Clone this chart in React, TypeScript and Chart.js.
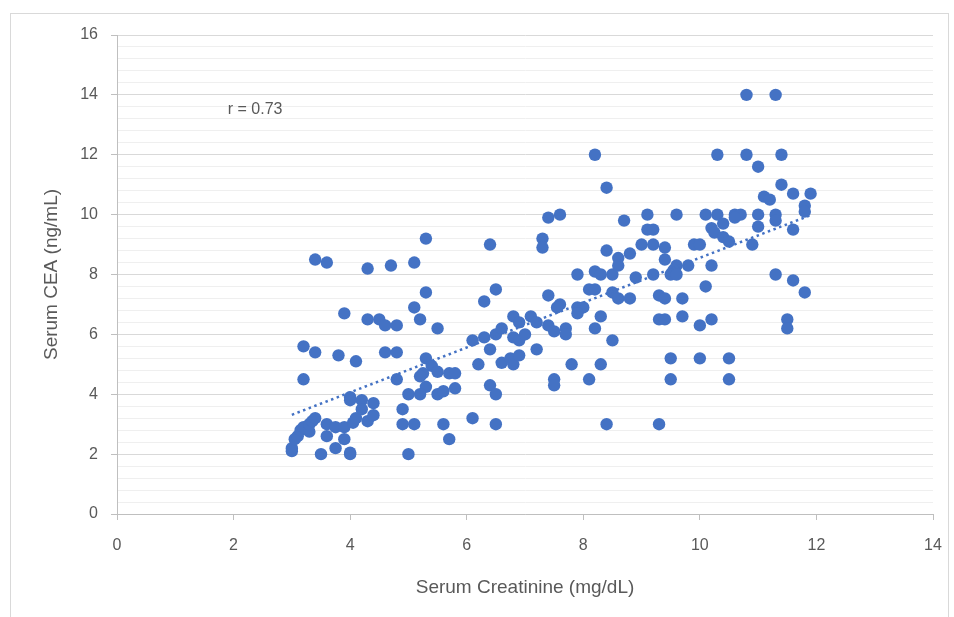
import React, { useEffect, useRef } from "react";
import { Chart, registerables } from "chart.js";

Chart.register(...registerables);

// Serum Creatinine (mg/dL), Serum CEA (ng/mL) pairs, grouped by creatinine range
const lowCreatinine: [number, number][] = [
  [3.0, 2.1], [3.0, 2.2], [3.05, 2.5], [3.1, 2.6], [3.15, 2.8], [3.2, 2.9], [3.3, 2.75], [3.3, 3.0], [3.35, 3.1], [3.4, 3.2],
  [3.5, 2.0], [3.6, 2.6], [3.6, 3.0], [3.75, 2.9], [3.75, 2.2], [3.9, 2.5], [3.9, 2.9], [4.0, 2.05], [4.0, 2.0], [4.05, 3.05],
  [4.1, 3.2], [4.0, 3.9], [4.0, 3.8], [4.2, 3.8], [4.2, 3.5], [4.3, 3.1], [4.4, 3.7], [4.4, 3.3],
  [3.2, 4.5], [3.2, 5.6], [3.4, 5.4], [3.8, 5.3], [4.1, 5.1], [3.9, 6.7], [3.4, 8.5], [3.6, 8.4], [4.3, 8.2], [4.3, 6.5],
  [4.5, 6.5], [4.6, 6.3], [4.8, 6.3], [4.6, 5.4], [4.8, 5.4], [4.8, 4.5], [4.7, 8.3],
];

const midCreatinine: [number, number][] = [
  [4.9, 3.5], [4.9, 3.0], [5.1, 3.0], [5.0, 2.0], [5.0, 4.0], [5.1, 8.4], [5.3, 9.2], [5.3, 7.4], [5.1, 6.9], [5.2, 6.5],
  [5.5, 6.2], [5.3, 5.2], [5.4, 4.95], [5.25, 4.7], [5.5, 4.75], [5.7, 4.7], [5.8, 4.7], [5.2, 4.6], [5.3, 4.25], [5.2, 4.0],
  [5.5, 4.0], [5.6, 4.1], [5.8, 4.2], [5.6, 3.0], [5.7, 2.5], [6.1, 3.2], [6.5, 3.0], [6.4, 4.3], [6.5, 4.0], [6.2, 5.0],
  [6.1, 5.8], [6.3, 5.9], [6.4, 5.5], [6.4, 9.0], [6.5, 7.5], [6.3, 7.1], [6.5, 6.0], [6.6, 6.2], [6.6, 5.05], [6.75, 5.2],
  [6.8, 5.0], [6.9, 5.3], [6.8, 6.6], [6.9, 6.4], [6.8, 5.9], [6.9, 5.8], [7.0, 6.0],
];

const upperCreatinine: [number, number][] = [
  [7.1, 6.6], [7.2, 6.4], [7.4, 6.3], [7.5, 6.1], [7.7, 6.2], [7.7, 6.0], [7.2, 5.5], [7.3, 9.2], [7.3, 8.9], [7.4, 9.9],
  [7.6, 10.0], [7.4, 7.3], [7.6, 7.0], [7.55, 6.9], [7.9, 6.9], [8.0, 6.9], [7.9, 6.7], [8.3, 6.6], [8.2, 6.2], [7.9, 8.0],
  [8.2, 8.1], [8.3, 8.0], [8.5, 8.0], [8.1, 7.5], [8.2, 7.5], [8.5, 7.4], [8.6, 7.2], [8.8, 7.2], [8.5, 5.8], [7.5, 4.5],
  [7.5, 4.3], [7.8, 5.0], [8.3, 5.0], [8.1, 4.5], [8.4, 3.0], [8.2, 12.0], [8.4, 10.9], [8.7, 9.8], [8.4, 8.8], [8.8, 8.7],
  [8.6, 8.55], [8.6, 8.3], [8.9, 7.9],
];

const highCreatinine: [number, number][] = [
  [9.0, 9.0], [9.2, 9.0], [9.4, 8.9], [9.1, 9.5], [9.2, 9.5], [9.1, 10.0], [9.6, 10.0], [9.9, 9.0], [10.0, 9.0], [9.4, 8.5],
  [9.6, 8.3], [9.55, 8.15], [9.8, 8.3], [9.5, 8.0], [9.6, 8.0], [9.2, 8.0], [10.2, 8.3], [10.1, 7.6], [9.3, 7.3], [9.4, 7.2],
  [9.7, 7.2], [9.3, 6.5], [9.4, 6.5], [9.7, 6.6], [10.0, 6.3], [10.2, 6.5], [9.5, 5.2], [10.0, 5.2], [10.5, 5.2], [9.5, 4.5],
  [10.5, 4.5], [9.3, 3.0], [10.1, 10.0], [10.3, 10.0], [10.4, 9.7], [10.2, 9.55], [10.25, 9.4], [10.4, 9.25], [10.5, 9.1], [10.6, 10.0],
  [10.7, 10.0], [10.6, 9.9], [10.9, 9.0], [11.0, 10.0], [11.0, 9.6], [11.3, 10.0], [11.3, 9.8], [11.6, 9.5], [11.1, 10.6], [11.2, 10.5],
  [11.8, 10.3], [11.8, 10.1], [11.6, 10.7], [11.9, 10.7], [11.4, 11.0], [11.0, 11.6], [10.3, 12.0], [10.8, 12.0], [11.4, 12.0], [10.8, 14.0],
  [11.3, 14.0], [11.3, 8.0], [11.6, 7.8], [11.8, 7.4], [11.5, 6.5], [11.5, 6.2],
];

const xAxisRange = [0, 14];
const xAxisStep = 2;
const yAxisRange = [0, 16];
const yMajorStep = 2;
const yMinorStep = 0.4;

const xTitle = "Serum Creatinine (mg/dL)";
const yTitle = "Serum CEA (ng/mL)";
const rLabel = "r = 0.73";
const rLabelAt = [1.9, 13.5];

const BLUE = "#4472C4";
const TEXT = "#595959";
const FONT = "'Liberation Sans', Arial, sans-serif";

const allPoints = [...lowCreatinine, ...midCreatinine, ...upperCreatinine, ...highCreatinine];

function trendPoints(pts: [number, number][]) {
  const n = pts.length;
  const mx = pts.reduce((s, p) => s + p[0], 0) / n;
  const my = pts.reduce((s, p) => s + p[1], 0) / n;
  let sxy = 0;
  let sxx = 0;
  for (const [x, y] of pts) {
    sxy += (x - mx) * (y - my);
    sxx += (x - mx) * (x - mx);
  }
  const slope = sxy / sxx;
  const icpt = my - slope * mx;
  const xs = pts.map((p) => p[0]);
  const x0 = Math.min(...xs);
  const x1 = Math.max(...xs);
  return [
    { x: x0, y: icpt + slope * x0 },
    { x: x1, y: icpt + slope * x1 },
  ];
}

const isMajor = (v: number) => Math.abs(v / yMajorStep - Math.round(v / yMajorStep)) < 1e-6;

const rLabelPlugin = {
  id: "rLabel",
  afterDatasetsDraw(chart: any) {
    const { ctx, scales } = chart;
    ctx.save();
    ctx.font = `16px ${FONT}`;
    ctx.fillStyle = TEXT;
    ctx.textAlign = "left";
    ctx.textBaseline = "middle";
    ctx.fillText(rLabel, scales.x.getPixelForValue(rLabelAt[0]), scales.y.getPixelForValue(rLabelAt[1]));
    ctx.restore();
  },
};

export default function App() {
  const canvasRef = useRef<HTMLCanvasElement | null>(null);

  useEffect(() => {
    if (!canvasRef.current) return;
    const chart = new Chart(canvasRef.current, {
      type: "scatter",
      data: {
        datasets: [
          {
            type: "line",
            label: "trend",
            data: trendPoints(allPoints),
            borderColor: BLUE,
            borderWidth: 2.5,
            borderDash: [2.5, 3.5],
            pointRadius: 0,
            fill: false,
            order: 0,
          } as any,
          {
            label: "CEA",
            data: allPoints.map(([x, y]) => ({ x, y })),
            backgroundColor: BLUE,
            borderWidth: 0,
            pointRadius: 6.2,
            pointHoverRadius: 6.2,
            order: 1,
          },
        ],
      },
      options: {
        animation: false,
        responsive: true,
        maintainAspectRatio: false,
        layout: { padding: { top: 35, right: 21, left: 0, bottom: 0 } },
        plugins: { legend: { display: false }, tooltip: { enabled: false } },
        scales: {
          x: {
            type: "linear",
            min: xAxisRange[0],
            max: xAxisRange[1],
            afterFit: (s: any) => {
              s.height = 103;
              s.paddingRight = 0;
              s.paddingLeft = 0;
            },
            ticks: {
              stepSize: xAxisStep,
              color: TEXT,
              font: { family: FONT, size: 16 },
              padding: 16,
            },
            grid: {
              drawOnChartArea: false,
              drawTicks: true,
              tickLength: 6,
              tickColor: "#bfbfbf",
            },
            border: { display: true, color: "#bfbfbf", width: 1 },
            title: {
              display: true,
              text: xTitle,
              color: TEXT,
              font: { family: FONT, size: 19 },
              padding: { top: 0, bottom: 18 },
            },
          },
          y: {
            type: "linear",
            min: yAxisRange[0],
            max: yAxisRange[1],
            afterFit: (s: any) => {
              s.width = 117;
            },
            ticks: {
              stepSize: yMinorStep,
              autoSkip: false,
              color: TEXT,
              font: { family: FONT, size: 16 },
              padding: 13,
              callback: (v: any) => (isMajor(Number(v)) ? String(Math.round(Number(v))) : ""),
            },
            grid: {
              color: (ctx: any) => (isMajor(ctx.tick?.value ?? 0) ? "#d9d9d9" : "#efefef"),
              tickColor: (ctx: any) => (isMajor(ctx.tick?.value ?? 0) ? "#bfbfbf" : "rgba(0,0,0,0)"),
              tickLength: 6,
              lineWidth: 1,
            },
            border: { display: true, color: "#bfbfbf", width: 1 },
            title: {
              display: true,
              text: yTitle,
              color: TEXT,
              font: { family: FONT, size: 19 },
              padding: { top: 40, bottom: 0 },
            },
          },
        },
      },
      plugins: [rLabelPlugin],
    });
    return () => chart.destroy();
  }, []);

  return (
    <div style={{ position: "fixed", left: 0, top: 0, width: 954, height: 617, background: "#fff" }}>
      <div
        style={{
          position: "absolute",
          left: 10,
          top: 13,
          width: 939,
          height: 610,
          border: "1px solid #d9d9d9",
          boxSizing: "border-box",
        }}
      />
      <canvas ref={canvasRef} style={{ position: "absolute", left: 0, top: 0 }} />
    </div>
  );
}
